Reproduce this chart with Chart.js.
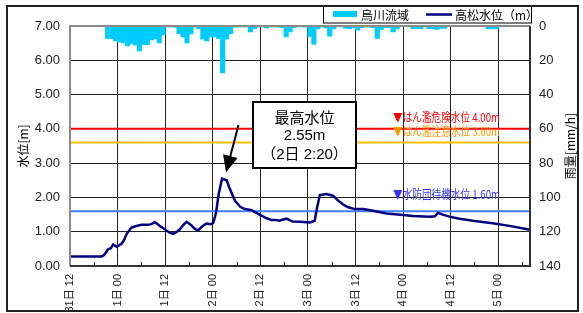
<!DOCTYPE html>
<html>
<head>
<meta charset="utf-8">
<script src="https://cdn.jsdelivr.net/npm/chart.js@4.4.0/dist/chart.umd.min.js"></script>
<style>
  html, body { margin: 0; padding: 0; background: #fff; }
  #wrap { width: 583px; height: 313px; }
</style>
</head>
<body>
<div id="wrap"><canvas id="chart" width="583" height="313"></canvas></div>
<script>
// time axis: hours since 31日 12:00
const xLabels = ['31日 12', '1日 00', '1日 12', '2日 00', '2日 12', '3日 00', '3日 12', '4日 00', '4日 12', '5日 00'];
const xMax = 116;

// 高松水位 (m)
const waterHours = [0, 8.0, 8.6, 9.6, 10.3, 10.9, 11.8, 13.0, 13.6, 14.3, 15.5, 16.5, 18.0, 19.5, 20.5, 21.4,
  22.5, 23.9, 25.0, 26.0, 27.0, 27.7, 28.6, 29.4, 30.5, 31.5, 32.3, 33.3, 34.4, 35.5, 36.1, 36.6, 36.9,
  37.5, 38.33, 39.5, 40.3, 41.6, 43.0, 44.1, 45.8, 47.9, 49.5, 50.8, 52.0, 52.9, 53.5, 54.6, 55.5, 56.2,
  58.0, 60.5, 61.7, 62.3, 63.0, 64.7, 66.3, 67.5, 68.8, 70.0, 71.8, 73.9, 76.4, 79.8, 84.0, 86.5, 90.7,
  92.0, 92.8, 94.0, 95.7, 98.2, 101.6, 106.6, 110.8, 115.4, 116];
const waterLevels = [0.28, 0.28, 0.32, 0.49, 0.52, 0.63, 0.56, 0.65, 0.75, 0.94, 1.12, 1.16, 1.20, 1.20, 1.22, 1.28,
  1.18, 1.07, 0.98, 0.94, 1.00, 1.07, 1.20, 1.29, 1.20, 1.08, 1.04, 1.15, 1.24, 1.22, 1.25, 1.45, 1.61,
  2.10, 2.55, 2.50, 2.25, 1.90, 1.72, 1.66, 1.63, 1.49, 1.40, 1.34, 1.34, 1.32, 1.35, 1.38, 1.33, 1.30,
  1.29, 1.27, 1.32, 1.70, 2.07, 2.10, 2.05, 1.92, 1.80, 1.72, 1.66, 1.66, 1.61, 1.53, 1.49, 1.46, 1.44,
  1.45, 1.55, 1.50, 1.44, 1.38, 1.32, 1.25, 1.17, 1.07, 1.06];

// 烏川流域 雨量 (mm/h), hour starts
const rainHours = [9, 10, 11, 12, 13, 14, 15, 16, 17, 18, 19, 20, 21, 22, 23, 24, 25, 26, 27, 28, 29,
  30, 31, 32, 33, 34, 35, 36, 37, 38, 39, 40, 41, 42, 43, 44, 45, 46, 47, 48, 49, 50, 51, 52, 53, 54,
  55, 56, 57, 58, 59, 60, 61, 62, 63, 64, 65, 66, 67, 68, 69, 70, 71, 72, 73, 74, 75, 76, 77, 78, 79,
  80, 81, 82, 86, 87, 88, 90, 91, 92, 93, 94, 105, 106, 107];
const rainValues = [7.2, 7.2, 8.6, 9.2, 9.7, 11.5, 10.1, 11.0, 14.4, 10.7, 10.7, 8.0, 7.2, 9.7, 5.0, 0.4, 0.3, 0.5, 4.3, 6.2, 9.7,
  4.5, 0.5, 1.4, 7.5, 8.6, 6.2, 6.2, 7.2, 27.2, 7.5, 4.3, 0.5, 0.4, 0.4, 0.4, 3.3, 1.4, 0.3, 0.3, 1.0, 0.4, 0.3, 0.5, 0.8, 6.2,
  3.3, 0.8, 0.3, 0.3, 0.5, 6.0, 10.5, 1.5, 0.3, 1.0, 5.8, 1.5, 0.3, 0.3, 1.2, 1.4, 0.8, 2.3, 0.8, 0.3, 0.5, 0.8, 7.2, 1.9, 0.8,
  0.8, 3.3, 1.5, 1.4, 1.4, 1.4, 1.4, 1.4, 1.9, 1.2, 1.2, 1.5, 1.5, 1.5];

// reference water levels
const thresholdValues = [4.0, 3.6, 1.6];
const thresholdNames = ['はん濫危険水位', 'はん濫注意水位', '水防団待機水位'];
const thresholdLineColors = ['#ff0000', '#ffc000', '#3f7fff'];
const thresholdTextColors = ['#ff0000', '#ff9900', '#3333ff'];
const thresholdTextOffsets = [-11, -11, -17];

const peakTimeLabel = '（2日 2:20）';

const NUM_FONT = '"Liberation Sans", "Noto Sans CJK JP", sans-serif';
const JP_FONT = '"Noto Sans CJK JP", "Liberation Sans", sans-serif';

function squishText(ctx, text, x, y, targetW, font, color) {
    ctx.save();
    ctx.font = font;
    const w = ctx.measureText(text).width;
    ctx.translate(x, y);
    ctx.scale(targetW / w, 1);
    ctx.fillStyle = color;
    ctx.textAlign = 'left';
    ctx.textBaseline = 'middle';
    ctx.fillText(text, 0, 0);
    ctx.restore();
}

const decorPlugin = {
    id: 'decor',
    beforeDraw(chart) {
        const ctx = chart.ctx;
        ctx.save();
        ctx.fillStyle = '#fff';
        ctx.fillRect(0, 0, chart.width, chart.height);
        ctx.restore();
    },
    afterDraw(chart) {
        const ctx = chart.ctx;
        const a = chart.chartArea;
        const xs = chart.scales.x;
        const ys = chart.scales.y;
        ctx.save();

        // plot frame
        ctx.lineWidth = 2;
        ctx.strokeStyle = '#8a8a8a';
        ctx.beginPath();
        ctx.moveTo(a.left, a.bottom);
        ctx.lineTo(a.left, a.top);
        ctx.lineTo(a.right, a.top);
        ctx.stroke();
        ctx.strokeStyle = '#333';
        ctx.beginPath();
        ctx.moveTo(a.right, a.top);
        ctx.lineTo(a.right, a.bottom);
        ctx.lineTo(a.left, a.bottom);
        ctx.stroke();

        // minor ticks every 6h
        ctx.lineWidth = 1;
        ctx.strokeStyle = '#222';
        for (let h = 6; h < xMax; h += 12) {
            const px = Math.round(xs.getPixelForValue(h)) + 0.5;
            ctx.beginPath();
            ctx.moveTo(px, a.bottom);
            ctx.lineTo(px, a.bottom - 4);
            ctx.stroke();
        }

        // threshold labels
        thresholdValues.forEach((v, i) => {
            const py = ys.getPixelForValue(v) + thresholdTextOffsets[i];
            const txt = '▼' + thresholdNames[i] + ' ' + v.toFixed(2) + 'm';
            squishText(ctx, txt, 393, py, 107, '12px ' + JP_FONT, thresholdTextColors[i]);
        });

        // peak callout
        let pk = 0;
        waterLevels.forEach((v, i) => { if (v > waterLevels[pk]) pk = i; });
        const tipX = xs.getPixelForValue(waterHours[pk]) + 4;
        const tipY = ys.getPixelForValue(waterLevels[pk]) - 6;
        const startX = 238.5, startY = 125;
        const ang = Math.atan2(tipY - startY, tipX - startX);
        const headL = 17, headW = 7.5;
        const bx = tipX - headL * Math.cos(ang), by = tipY - headL * Math.sin(ang);
        ctx.strokeStyle = '#000';
        ctx.lineWidth = 2;
        ctx.beginPath();
        ctx.moveTo(startX, startY);
        ctx.lineTo(bx, by);
        ctx.stroke();
        ctx.fillStyle = '#000';
        ctx.beginPath();
        ctx.moveTo(tipX, tipY);
        ctx.lineTo(bx + headW * Math.sin(ang), by - headW * Math.cos(ang));
        ctx.lineTo(bx - headW * Math.sin(ang), by + headW * Math.cos(ang));
        ctx.closePath();
        ctx.fill();

        ctx.fillStyle = '#fff';
        ctx.fillRect(253, 102, 103, 66);
        ctx.strokeStyle = '#000';
        ctx.lineWidth = 2;
        ctx.strokeRect(253, 102, 103, 66);
        ctx.fillStyle = '#000';
        ctx.textAlign = 'center';
        ctx.textBaseline = 'middle';
        ctx.font = '15px ' + JP_FONT;
        ctx.fillText('最高水位', 304.5, 117);
        ctx.font = '15px ' + NUM_FONT;
        ctx.fillText(waterLevels[pk].toFixed(2) + 'm', 304.5, 136);
        ctx.fillText(peakTimeLabel, 304.5, 155);

        // legend
        ctx.fillStyle = '#fff';
        ctx.fillRect(323, 6, 209, 17);
        ctx.strokeStyle = '#000';
        ctx.lineWidth = 1;
        ctx.strokeRect(323.5, 6.5, 208, 16.5);
        ctx.fillStyle = '#00ccff';
        ctx.fillRect(333, 11, 24, 6);
        ctx.fillStyle = '#000';
        ctx.textAlign = 'left';
        ctx.font = '12px ' + JP_FONT;
        ctx.fillText('烏川流域', 361, 15);
        ctx.strokeStyle = '#000080';
        ctx.lineWidth = 2.5;
        ctx.beginPath();
        ctx.moveTo(426, 14.5);
        ctx.lineTo(452, 14.5);
        ctx.stroke();
        ctx.fillText('高松水位（m）', 455, 15);

        // axis titles
        ctx.font = '12px ' + JP_FONT;
        ctx.textAlign = 'center';
        const midY = (a.top + a.bottom) / 2;
        [[23, '水位[m]'], [570, '雨量[mm/h]']].forEach(([tx, t]) => {
            ctx.save();
            ctx.translate(tx, midY);
            ctx.rotate(-Math.PI / 2);
            ctx.fillText(t, 0, 0);
            ctx.restore();
        });

        // outer frame
        ctx.strokeStyle = '#222';
        ctx.lineWidth = 2;
        ctx.strokeRect(7, 6, 571, 305);
        ctx.restore();
    }
};

new Chart(document.getElementById('chart').getContext('2d'), {
    type: 'line',
    data: {
        datasets: [
            {
                label: '高松水位（m）',
                data: waterHours.map((h, i) => ({ x: h, y: waterLevels[i] })),
                borderColor: '#000080',
                borderWidth: 2.5,
                pointRadius: 0,
                tension: 0,
                yAxisID: 'y',
                order: 0,
            },
            ...thresholdValues.map((v, i) => ({
                label: thresholdNames[i],
                data: [{ x: 0, y: v }, { x: xMax, y: v }],
                borderColor: thresholdLineColors[i],
                borderWidth: 2,
                pointRadius: 0,
                yAxisID: 'y',
                order: 1,
            })),
            {
                type: 'bar',
                label: '烏川流域',
                data: rainHours.map((h, i) => ({ x: h + 0.5, y: rainValues[i] })),
                backgroundColor: '#00ccff',
                borderWidth: 0,
                inflateAmount: 0.6,
                barPercentage: 1,
                categoryPercentage: 1,
                yAxisID: 'y2',
                order: 2,
            },
        ],
    },
    options: {
        responsive: false,
        animation: false,
        devicePixelRatio: 1,
        layout: { padding: { top: 26, left: 0, right: 0, bottom: 0 } },
        plugins: { legend: { display: false }, tooltip: { enabled: false } },
        scales: {
            x: {
                type: 'linear',
                offset: false,
                min: 0,
                max: xMax,
                afterBuildTicks: (s) => { s.ticks = xLabels.map((_, i) => ({ value: i * 12 })); },
                afterFit: (s) => { s.height = 47; },
                ticks: {
                    autoSkip: false,
                    minRotation: 90,
                    maxRotation: 90,
                    padding: 8,
                    color: '#222',
                    font: { size: 11, family: NUM_FONT },
                    callback: (v) => xLabels[Math.round(v / 12)],
                },
                grid: { color: '#222', lineWidth: 1, drawTicks: false, offset: false },
                border: { display: false },
            },
            y: {
                position: 'left',
                min: 0,
                max: 7,
                afterFit: (s) => { s.width = 70; },
                ticks: {
                    stepSize: 1,
                    padding: 10,
                    color: '#222',
                    font: { size: 13, family: NUM_FONT },
                    callback: (v) => v.toFixed(2),
                },
                grid: { color: '#222', lineWidth: 1, drawTicks: false },
                border: { display: false },
            },
            y2: {
                position: 'right',
                min: 0,
                max: 140,
                reverse: true,
                afterFit: (s) => { s.width = 53; },
                ticks: {
                    stepSize: 20,
                    padding: 9,
                    color: '#222',
                    font: { size: 13, family: NUM_FONT },
                },
                grid: { display: false, drawTicks: false },
                border: { display: false },
            },
        },
    },
    plugins: [decorPlugin],
});
</script>
</body>
</html>
